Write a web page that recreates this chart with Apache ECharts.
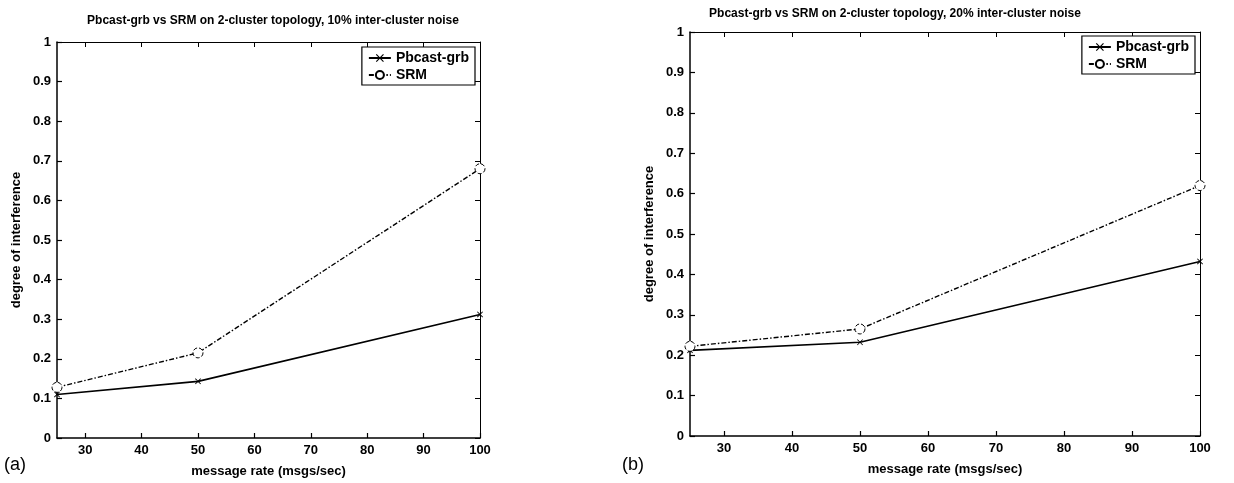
<!DOCTYPE html>
<html>
<head>
<meta charset="utf-8">
<script src="https://cdn.jsdelivr.net/npm/echarts@6/dist/echarts.min.js"></script>
<style>
html,body{margin:0;padding:0;background:#fff;}
#c{width:1234px;height:483px;}
</style>
</head>
<body>
<div id="c"></div>
<script>
var xCats = [25, 50, 100];
var xTicks = [30, 40, 50, 60, 70, 80, 90, 100];
var yTicks = [0, 0.1, 0.2, 0.3, 0.4, 0.5, 0.6, 0.7, 0.8, 0.9, 1];
var pbcastA = [0.11, 0.143, 0.312];
var srmA = [0.128, 0.215, 0.68];
var pbcastB = [0.212, 0.232, 0.432];
var srmB = [0.222, 0.265, 0.62];
var titleA = 'Pbcast-grb vs SRM on 2-cluster topology, 10% inter-cluster noise';
var titleB = 'Pbcast-grb vs SRM on 2-cluster topology, 20% inter-cluster noise';

var FONT = '"Liberation Sans", Arial, sans-serif';
var XSYM = 'path://M0,1L1,0L5,4L9,0L10,1L6,5L10,9L9,10L5,6L1,10L0,9L4,5Z';

function pairs(vals){ return xCats.map(function(x,i){ return [x, vals[i]]; }); }

function xAxes(gi){
  return [{
    gridIndex: gi, type: 'value', min: 25, max: 100,
    name: 'message rate (msgs/sec)', nameLocation: 'middle', nameGap: 27,
    nameTextStyle: {fontFamily: FONT, fontWeight: 'bold', fontSize: 13, color: '#000'},
    axisLine: {show: true, onZero: false, lineStyle: {color: '#000', width: 1.5}},
    axisTick: {show: true, inside: true, length: 5, customValues: xTicks, lineStyle: {color: '#000', width: 1.2}},
    axisLabel: {customValues: xTicks, fontFamily: FONT, fontWeight: 'bold', fontSize: 13, color: '#000', margin: 6},
    splitLine: {show: false}
  },{
    gridIndex: gi, type: 'value', min: 25, max: 100, position: 'top',
    axisLine: {show: true, onZero: false, lineStyle: {color: '#000', width: 1}},
    axisTick: {show: true, inside: true, length: 5, customValues: xTicks, lineStyle: {color: '#000', width: 1}},
    axisLabel: {show: false, customValues: xTicks},
    splitLine: {show: false}
  }];
}
function yAxes(gi){
  return [{
    gridIndex: gi, type: 'value', min: 0, max: 1, interval: 0.1,
    name: 'degree of interference', nameLocation: 'middle', nameGap: 34, nameRotate: 90,
    nameTextStyle: {fontFamily: FONT, fontWeight: 'bold', fontSize: 13, color: '#000'},
    axisLine: {show: true, onZero: false, lineStyle: {color: '#000', width: 1.5}},
    axisTick: {show: true, inside: true, length: 5, lineStyle: {color: '#000', width: 1.2}},
    axisLabel: {fontFamily: FONT, fontWeight: 'bold', fontSize: 13, color: '#000', margin: 6,
      formatter: function(v){ return String(yTicks[Math.round(v*10)]); }},
    splitLine: {show: false}
  },{
    gridIndex: gi, type: 'value', min: 0, max: 1, interval: 0.1, position: 'right',
    axisLine: {show: true, onZero: false, lineStyle: {color: '#000', width: 1}},
    axisTick: {show: true, inside: true, length: 5, lineStyle: {color: '#000'}},
    axisLabel: {show: false}, splitLine: {show: false}
  }];
}
function series(gi, pb, srm){
  return [{
    name: 'Pbcast-grb', type: 'line', xAxisIndex: gi*2, yAxisIndex: gi*2,
    data: pairs(pb), symbol: XSYM, symbolSize: 6,
    lineStyle: {color: '#000', width: 1.6, type: 'solid'},
    itemStyle: {color: '#000'}
  },{
    name: 'SRM', type: 'line', xAxisIndex: gi*2, yAxisIndex: gi*2,
    data: pairs(srm), symbol: 'circle', symbolSize: 10, showAllSymbol: true,
    lineStyle: {color: '#000', width: 1.4, type: [5, 2, 1.5, 2]},
    itemStyle: {color: '#fff', borderColor: '#000', borderWidth: 1, borderType: 'dashed'}
  }];
}
function legend(right, top){
  return {
    right: right, top: top, orient: 'vertical', data: ['Pbcast-grb', 'SRM'],
    backgroundColor: '#fff', borderColor: '#000', borderWidth: 1.2,
    padding: [4, 6, 3, 6], itemGap: 3, itemWidth: 22, itemHeight: 10,
    textStyle: {fontFamily: FONT, fontWeight: 'bold', fontSize: 14, color: '#000'},
    selectedMode: false
  };
}

var chart = echarts.init(document.getElementById('c'));
chart.setOption({
  animation: false,
  backgroundColor: '#fff',
  title: [
    {text: titleA, left: 268, top: 10, textAlign: 'center',
     textStyle: {fontFamily: FONT, fontWeight: 'bold', fontSize: 12, color: '#000'}},
    {text: titleB, left: 890, top: 3, textAlign: 'center',
     textStyle: {fontFamily: FONT, fontWeight: 'bold', fontSize: 12, color: '#000'}}
  ],
  graphic: [
    {type: 'text', left: 4, top: 456, style: {text: '(a)', font: '18px ' + FONT, fill: '#000'}},
    {type: 'text', left: 622, top: 456, style: {text: '(b)', font: '18px ' + FONT, fill: '#000'}}
  ],
  legend: [legend(759, 47), legend(39, 36)],
  grid: [
    {left: 57, right: 754, top: 42, bottom: 43, containLabel: false},
    {left: 690, right: 34, top: 32, bottom: 47, containLabel: false}
  ],
  xAxis: xAxes(0).concat(xAxes(1)),
  yAxis: yAxes(0).concat(yAxes(1)),
  series: series(0, pbcastA, srmA).concat(series(1, pbcastB, srmB))
});
</script>
</body>
</html>
